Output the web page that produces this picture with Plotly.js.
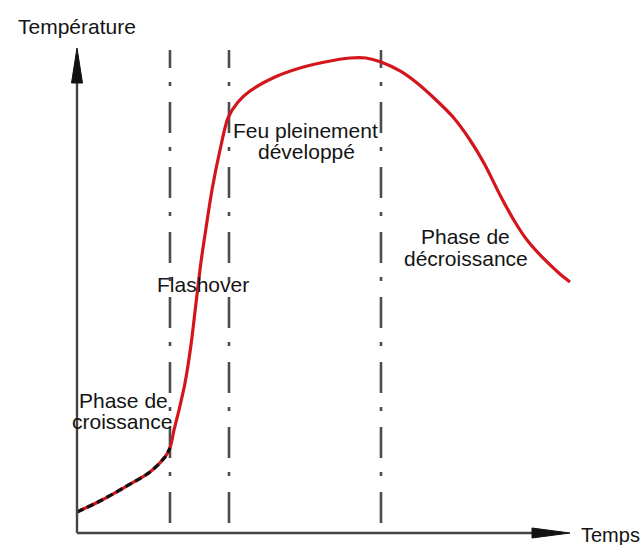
<!DOCTYPE html>
<html>
<head>
<meta charset="utf-8">
<script src="https://cdn.plot.ly/plotly-3.0.1.min.js"></script>
<style>html,body{margin:0;padding:0;background:#fff;}#chart{width:644px;height:545px;}</style>
</head>
<body>
<div id="chart"></div>
<script>
// Temps (arbitrary units 0-100) and Température (arbitrary units 0-100)
const temps = [0, 4.67, 9.74, 14.81, 17.85, 18.86, 19.68, 20.69, 21.91, 23.12, 24.14, 25.15, 26.17, 27.38, 29.01, 30.63, 32.66, 35.09, 40.16, 45.23, 50.30, 55.38, 58.62, 61.66, 65.52, 68.97, 72.62, 76.27, 79.72, 82.76, 85.80, 88.84, 91.28, 94.93, 97.97, 100.0];
const temperature = [4.33, 6.60, 9.48, 12.58, 15.67, 17.53, 21.24, 25.36, 30.93, 38.76, 47.42, 55.88, 62.89, 70.72, 78.97, 85.57, 88.87, 91.13, 94.02, 95.88, 97.11, 97.94, 97.94, 97.11, 95.26, 92.78, 89.48, 85.77, 81.03, 75.88, 69.69, 64.12, 60.41, 56.29, 53.40, 51.75];
// Number of leading points in the growth phase (black dashed overlay)
const growthCount = 6;
// Phase boundaries (time)
const boundaries = [18.86, 30.83, 61.66];
const phaseLabels = ["Phase de", "croissance", "Flashover", "Feu pleinement", "développé", "Phase de", "décroissance"];
const axisTitles = {x: "Temps", y: "Température"};

// pixel -> data helpers (for layout positions only)
const PX_PER_X = 4.93, PX_PER_Y = 4.85, OX = 77, OY = 533;
const X = px => (px - OX) / PX_PER_X;
const Y = py => (OY - py) / PX_PER_Y;

const traces = [
  {x: temps, y: temperature, mode: 'lines', line: {color: '#d4161c', width: 3.2, shape: 'spline', smoothing: 0.8}, hoverinfo: 'skip'},
  {x: temps.slice(0, growthCount), y: temperature.slice(0, growthCount), mode: 'lines',
   line: {color: '#111', width: 3.2, dash: '7px,4px', shape: 'spline', smoothing: 0.8}, hoverinfo: 'skip'}
];

const shapes = [];
boundaries.forEach(b => shapes.push({type: 'line', xref: 'x', yref: 'y', x0: b, x1: b, y0: Y(523), y1: Y(50),
  line: {color: '#4d4d4d', width: 2.6, dash: '31px,16px,4px,14px'}, layer: 'below'}));
// axes
shapes.push({type: 'line', xref: 'x', yref: 'y', x0: 0, x1: 0, y0: 0, y1: Y(80), line: {color: '#444', width: 2.4}});
shapes.push({type: 'line', xref: 'x', yref: 'y', x0: 0, x1: X(535), y0: 0, y1: 0, line: {color: '#444', width: 2.4}});
// arrowheads
shapes.push({type: 'path', xref: 'x', yref: 'y',
  path: `M ${X(71.5)},${Y(83)} L ${X(77)},${Y(48)} L ${X(82.5)},${Y(83)} Z`, fillcolor: '#111', line: {color: '#111', width: 1}});
shapes.push({type: 'path', xref: 'x', yref: 'y',
  path: `M ${X(532)},${Y(538)} L ${X(570)},${Y(533)} L ${X(532)},${Y(528)} Z`, fillcolor: '#111', line: {color: '#111', width: 1}});

const font = {family: 'Liberation Sans, Arial, sans-serif', size: 21, color: '#141414'};
function ann(text, px, py, xanchor, size) {
  return {text: text, x: X(px), y: Y(py), xref: 'x', yref: 'y', showarrow: false,
    xanchor: xanchor || 'center', yanchor: 'middle', font: Object.assign({}, font, size ? {size: size} : {})};
}
const annotations = [
  ann(axisTitles.y, 77, 26),
  ann(axisTitles.x, 579, 535, 'left', 20),
  ann(phaseLabels[0], 123, 400),
  ann(phaseLabels[1], 122, 421),
  ann(phaseLabels[2], 203, 284),
  ann(phaseLabels[3], 305, 130),
  ann(phaseLabels[4], 306, 151),
  ann(phaseLabels[5], 465, 236),
  ann(phaseLabels[6], 466, 258)
];

const layout = {
  width: 644, height: 545,
  margin: {l: 0, r: 0, t: 0, b: 0},
  paper_bgcolor: '#fff', plot_bgcolor: '#fff',
  showlegend: false,
  xaxis: {range: [X(0), X(644)], visible: false, fixedrange: true},
  yaxis: {range: [Y(545), Y(0)], visible: false, fixedrange: true},
  shapes: shapes,
  annotations: annotations
};
Plotly.newPlot('chart', traces, layout, {displayModeBar: false, staticPlot: true});
</script>
</body>
</html>
